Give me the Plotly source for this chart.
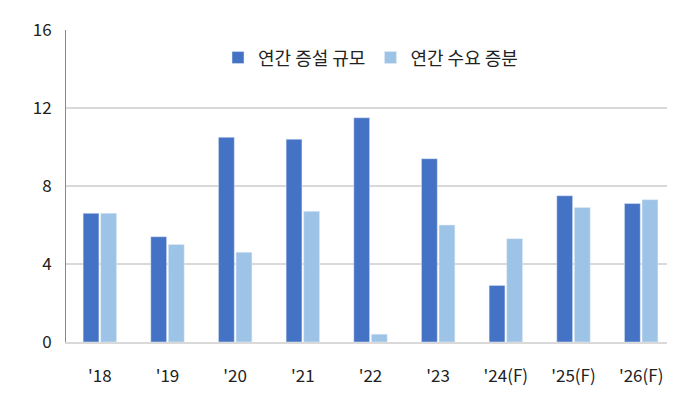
import plotly.graph_objects as go

years = ["'18", "'19", "'20", "'21", "'22", "'23", "'24(F)", "'25(F)", "'26(F)"]
capacity_add = [6.6, 5.4, 10.5, 10.4, 11.5, 9.4, 2.9, 7.5, 7.1]
demand_add = [6.6, 5.0, 4.6, 6.7, 0.4, 6.0, 5.3, 6.9, 7.3]

fig = go.Figure()
fig.add_trace(go.Bar(x=years, y=capacity_add, name="연간 증설 규모", marker_color="#4472C4"))
fig.add_trace(go.Bar(x=years, y=demand_add, name="연간 수요 증분", marker_color="#9DC3E6"))

fig.update_layout(
    width=675, height=406,
    margin=dict(l=58, r=8, t=17, b=72),
    plot_bgcolor="white", paper_bgcolor="white",
    font=dict(family="Noto Sans CJK KR", size=17, color="#222"),
    barmode="group", bargap=0.48, bargroupgap=0.1,
    legend=dict(orientation="h", x=0.5, xanchor="center", y=0.97, yanchor="top",
                font=dict(size=18), itemwidth=30, bgcolor="rgba(0,0,0,0)"),
)
fig.update_yaxes(range=[0, 16], dtick=4, showgrid=True, gridcolor="#D9D9D9", gridwidth=2,
                 showline=True, linecolor="#888", zeroline=False, ticks="", ticklen=0,
                 tickfont=dict(size=17), ticklabelstandoff=10)
fig.update_xaxes(showline=True, linecolor="#D9D9D9", linewidth=2, ticks="",
                 tickfont=dict(size=17), ticklabelstandoff=18)

fig.write_html("out.html")
